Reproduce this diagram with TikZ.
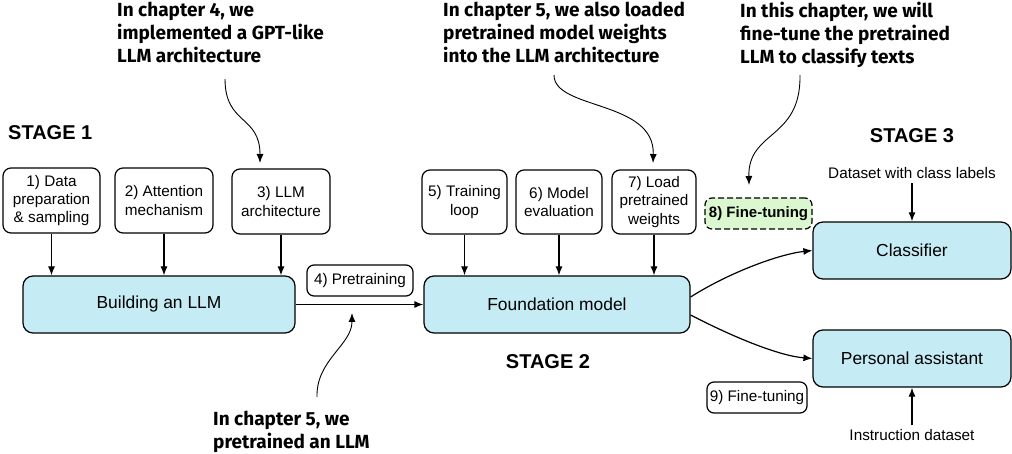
\documentclass[tikz,border=0pt]{standalone}
\usepackage{fontspec}
\setmainfont{Liberation Sans}
\newfontfamily\annfont{Fira Sans}
\usetikzlibrary{arrows.meta,calc}
\definecolor{boxblue}{RGB}{197,235,245}
\definecolor{boxgreen}{RGB}{218,247,208}
\begin{document}
\begin{tikzpicture}[x=1pt,y=-1pt,
  box/.style={draw, line width=1.2pt, rounded corners=8pt, align=center, inner sep=0pt, minimum height=65pt, font=\fontsize{15.3}{18.3}\selectfont},
  mainbox/.style={draw, line width=1.2pt, rounded corners=10pt, fill=boxblue, inner sep=0pt, minimum height=57pt, font=\fontsize{17.4}{20}\selectfont},
  tagbox/.style={draw, line width=1.2pt, rounded corners=7pt, inner sep=0pt, minimum height=31pt, font=\fontsize{15.3}{18}\selectfont},
  arr/.style={-{Latex[length=9pt,width=7pt]}, line width=1.2pt},
  annarr/.style={-{Latex[length=9pt,width=7pt]}, line width=0.9pt},
  ann/.style={anchor=north west, align=left, inner sep=0pt, font=\annfont\bfseries\fontsize{19}{23}\selectfont},
  stage/.style={inner sep=0pt, font=\bfseries\fontsize{20}{24}\selectfont},
  plain/.style={inner sep=0pt, font=\fontsize{15.3}{18}\selectfont}
]
\useasboundingbox (0,0) rectangle (1012,454);

% Stage 1
\node[box, minimum width=97pt] (b1) at (51.5,200.5) {1) Data\\preparation\\\& sampling};
\node[box, minimum width=98pt] (b2) at (164,200.5) {2) Attention\\mechanism};
\node[box, minimum width=98pt] (b3) at (281,201.5) {3) LLM\\architecture};
\node[mainbox, minimum width=272pt] (build) at (159,304.5) {Building an LLM};
\node[tagbox, minimum width=106pt] (pre) at (360,280.5) {4) Pretraining};

% Stage 2
\node[box, minimum width=85pt, minimum height=64pt] (b5) at (464.5,202) {5) Training\\loop};
\node[box, minimum width=86pt, minimum height=64pt] (b6) at (559,202) {6) Model\\evaluation};
\node[box, minimum width=84pt, minimum height=64pt] (b7) at (654,202) {7) Load\\pretrained\\weights};
\node[mainbox, minimum width=266pt] (found) at (557,304.5) {Foundation model};
\node[tagbox, dashed, dash pattern=on 6pt off 3pt, fill=boxgreen, minimum width=107pt, font=\bfseries\fontsize{15}{18}\selectfont] (ft8) at (758.5,213.5) {8) Fine-tuning};

% Stage 3
\node[mainbox, minimum width=198pt] (cls) at (912,250.5) {Classifier};
\node[mainbox, minimum width=198pt] (pa) at (912,358.5) {Personal assistant};
\node[tagbox, minimum width=100pt] (ft9) at (757,397.5) {9) Fine-tuning};
\node[plain] (dsl) at (912,173) {Dataset with class labels};
\node[plain] (ids) at (912,435) {Instruction dataset};

% Stage labels
\node[stage, anchor=west] (s1) at (8,133) {STAGE 1};
\node[stage] (s2) at (548,362) {STAGE 2};
\node[stage] (s3) at (912,136) {STAGE 3};

% Connectors
\draw[arr] (b1.south) -- (b1.south |- build.north);
\draw[arr] (b2.south) -- (b2.south |- build.north);
\draw[arr] (b3.south) -- (b3.south |- build.north);
\draw[arr] (b5.south) -- (b5.south |- found.north);
\draw[arr] (b6.south) -- (b6.south |- found.north);
\draw[arr] (b7.south) -- (b7.south |- found.north);
\draw[arr] (build.east) -- (found.west);
\draw[arr] ($(found.east)+(0,-7.5)$) .. controls (730,272) and (780,254) .. (cls.west);
\draw[arr] ($(found.east)+(0,10.5)$) .. controls (735,338) and (780,356) .. (pa.west);
\draw[arr] ($(dsl.south)+(0,4)$) -- (cls.north);
\draw[arr] ($(ids.north)+(0,-4)$) -- (pa.south);

% Annotations
\node[ann] (a4) at (117,2) {In chapter 4, we\\implemented a GPT-like\\LLM architecture};
\node[ann] (a5) at (443,2) {In chapter 5, we also loaded\\pretrained model weights\\into the LLM architecture};
\node[ann] (a8) at (740,2) {In this chapter, we will\\fine-tune the pretrained\\LLM to classify texts};
\node[ann] (apre) at (213,411) {In chapter 5, we\\pretrained an LLM};

\coordinate (c4s) at (225,79);
\coordinate (c4e) at (260,163);
\coordinate (c5s) at (554,75);
\coordinate (c5e) at (653,163);
\coordinate (c8s) at (800,75);
\coordinate (c8e) at (749,185);
\coordinate (cps) at (317,397);
\coordinate (cpe) at (352,313);
\draw[annarr] (c4s) .. controls (225,125) and (260,115) .. (c4e);
\draw[annarr] (c5s) .. controls (554,110) and (655,100) .. (c5e);
\draw[annarr] (c8s) .. controls (801,140) and (748,130) .. (c8e);
\draw[annarr] (cps) .. controls (316,360) and (352,345) .. (cpe);
\end{tikzpicture}
\end{document}
